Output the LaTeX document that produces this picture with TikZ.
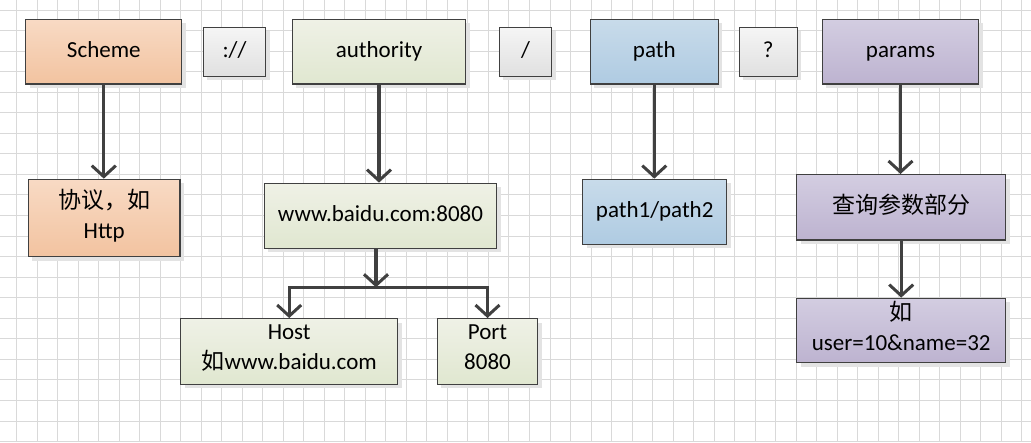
\documentclass[tikz,border=0pt]{standalone}
\usepackage{fontspec}
\setmainfont{Carlito}
\newfontfamily\cjk{Noto Sans CJK SC}
\usetikzlibrary{arrows.meta,shadows}
\newcommand\mystrut{\rule[-9pt]{0pt}{29.6pt}}
\definecolor{gridc}{HTML}{D9D9D9}
\definecolor{edge}{HTML}{404040}
\definecolor{orT}{HTML}{F8DAC4}
\definecolor{orB}{HTML}{F2C3A0}
\definecolor{grT}{HTML}{EFF1E6}
\definecolor{grB}{HTML}{E0E7D0}
\definecolor{blT}{HTML}{C8DBEA}
\definecolor{blB}{HTML}{AFCBE2}
\definecolor{puT}{HTML}{D3CDE1}
\definecolor{puB}{HTML}{BDB3D0}
\definecolor{gyT}{HTML}{F5F5F5}
\definecolor{gyB}{HTML}{E0E0E0}
\tikzset{
  box/.style={draw=edge, line width=1.3pt, inner sep=0pt, align=center,
    font=\fontsize{23}{30}\selectfont, execute at begin node=\mystrut,
    drop shadow={shadow xshift=4pt, shadow yshift=-4pt, fill=black!11, opacity=1}},
  orange/.style={box, top color=orT, bottom color=orB},
  green/.style={box, top color=grT, bottom color=grB},
  blue/.style={box, top color=blT, bottom color=blB},
  purple/.style={box, top color=puT, bottom color=puB},
  grey/.style={box, top color=gyT, bottom color=gyB},
  conn/.style={draw=edge, line width=3.2pt, -{Straight Barb[length=11pt,width=24pt,line width=3pt]}}
}
\begin{document}
\begin{tikzpicture}[x=1pt,y=-1pt]
\useasboundingbox (0,0) rectangle (1031,442);
\fill[white] (0,0) rectangle (1031,442);
% grid
\foreach \i in {0,...,50} {
  \draw[gridc, line width=1pt] ({16.5+20.52*\i},0) -- ({16.5+20.52*\i},442);
}
\foreach \j in {0,...,21} {
  \draw[gridc, line width=1pt] (0,{10+20.55*\j}) -- (1031,{10+20.55*\j});
}
% top row
\node[orange, minimum width=156pt, minimum height=64.7pt] (scheme) at (103.8,51.7) {Scheme};
\node[grey, minimum width=62.4pt, minimum height=49pt] (sepa) at (234.5,51.8) {://};
\node[green, minimum width=173.4pt, minimum height=64.7pt] (auth) at (379,51.7) {authority};
\node[grey, minimum width=52.4pt, minimum height=49pt] (sepb) at (525.5,51.8) {/};
\node[blue, minimum width=128pt, minimum height=64.7pt] (path) at (654.3,51.7) {path};
\node[grey, minimum width=58pt, minimum height=49pt] (sepc) at (768.3,51.8) {?};
\node[purple, minimum width=156.4pt, minimum height=64.7pt] (params) at (900.5,51.7) {params};
% second row
\node[orange, minimum width=151.7pt, minimum height=77.4pt] (proto) at (104.2,218) {{\cjk 协议，如}\\\mystrut Http};
\node[green, minimum width=232.4pt, minimum height=65pt] (www) at (380.5,215.8) {www.baidu.com:8080};
\node[blue, minimum width=144pt, minimum height=65pt] (ptwo) at (654.7,211.8) {path1/path2};
\node[purple, minimum width=209pt, minimum height=65.3pt] (query) at (901.2,207.3) {\cjk 查询参数部分};
% third row
\node[green, minimum width=217pt, minimum height=65.6pt] (host) at (289.2,351.5) {Host\\\mystrut{\cjk 如}www.baidu.com};
\node[green, minimum width=100.4pt, minimum height=65.6pt] (port) at (487.5,351.5) {Port\\\mystrut 8080};
\node[purple, minimum width=209pt, minimum height=64.4pt] (example) at (901.2,330.5) {{\cjk 如}\\\mystrut user=10\&name=32};
% connectors
\draw[conn] (scheme) -- (scheme |- proto.north);
\draw[conn] (auth) -- (auth |- www.north);
\draw[conn] (path) -- (path |- ptwo.north);
\draw[conn] (params) -- (params |- query.north);
\draw[conn] (query) -- (example);
\coordinate (j) at (376,287.3);
\draw[conn] (www.south -| j) -- (j);
\draw[conn] (j) -| (host.north);
\draw[conn] (j) -| (port.north);
\end{tikzpicture}
\end{document}
